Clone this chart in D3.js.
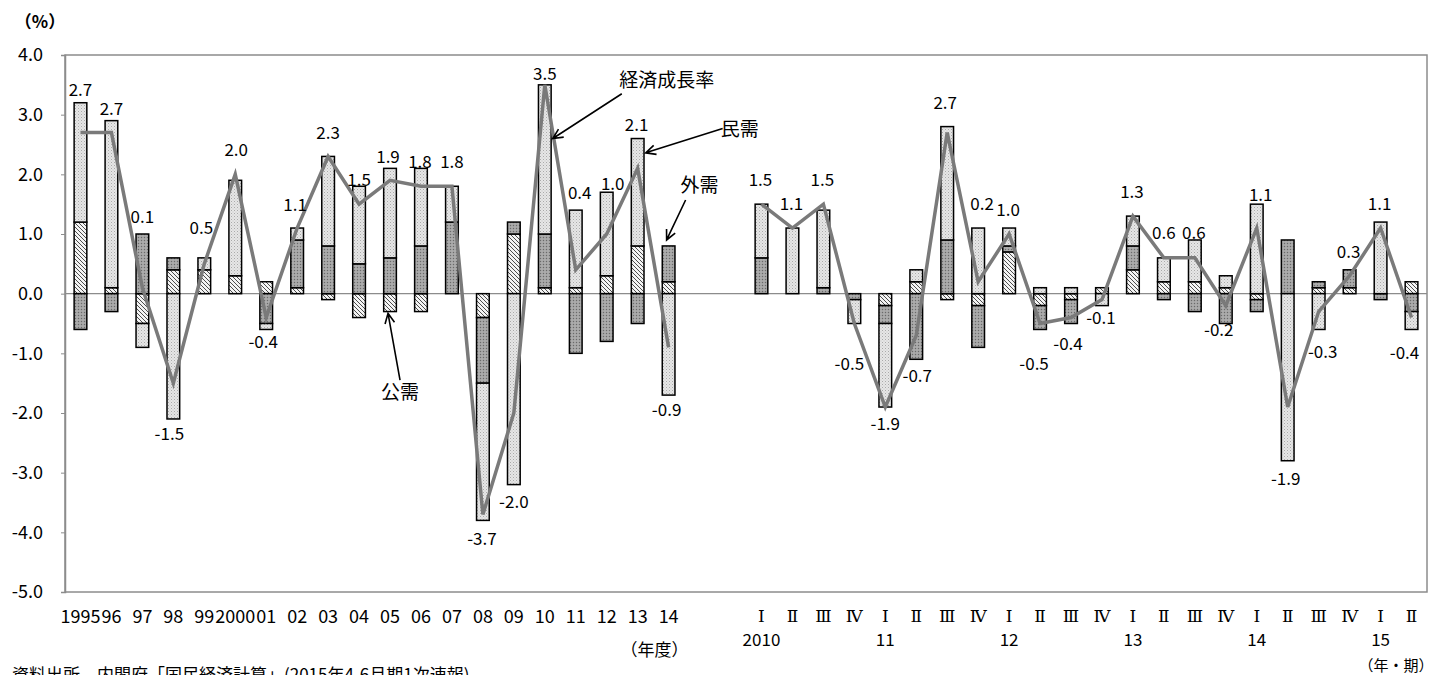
<!DOCTYPE html>
<html><head><meta charset="utf-8">
<script src="https://cdn.jsdelivr.net/npm/d3@7"></script>
<style>
body{margin:0;background:#fff;}
text{fill:#000;}
</style></head>
<body>
<script>
// ---------- DATA ----------
const annualCats = ["1995","96","97","98","99","2000","01","02","03","04","05","06","07","08","09","10","11","12","13","14"];
const annualPublic   = [1.2,0.1,-0.5,0.4,0.4,0.3,0.2,0.1,-0.1,-0.4,-0.3,-0.3,0,-0.4,1.0,0.1,0.1,0.3,0.8,0.2];
const annualExternal = [-0.6,-0.3,1.0,0.2,0,0,-0.5,0.8,0.8,0.5,0.6,0.8,1.2,-1.1,0.2,0.9,-1.0,-0.8,-0.5,0.6];
const annualPrivate  = [2.0,2.8,-0.4,-2.1,0.2,1.6,-0.1,0.2,1.5,1.3,1.5,1.3,0.6,-2.3,-3.2,2.5,1.3,1.4,1.8,-1.7];
const annualGDP      = [2.7,2.7,0.1,-1.5,0.5,2.0,-0.4,1.1,2.3,1.5,1.9,1.8,1.8,-3.7,-2.0,3.5,0.4,1.0,2.1,-0.9];

const quarterCats  = ["Ⅰ","Ⅱ","Ⅲ","Ⅳ","Ⅰ","Ⅱ","Ⅲ","Ⅳ","Ⅰ","Ⅱ","Ⅲ","Ⅳ","Ⅰ","Ⅱ","Ⅲ","Ⅳ","Ⅰ","Ⅱ","Ⅲ","Ⅳ","Ⅰ","Ⅱ"];
const quarterYears = ["2010","","","","11","","","","12","","","","13","","","","14","","","","15",""];
const quarterPublic   = [0,0,0,0,-0.2,0.2,-0.1,-0.2,0.7,-0.2,-0.1,0.1,0.4,0.2,0.2,0.1,-0.1,0,0.1,0.1,0,0.2];
const quarterExternal = [0.6,0,0.1,-0.1,-0.3,-1.1,0.9,-0.7,0.1,-0.4,-0.4,0,0.4,-0.1,-0.3,-0.5,-0.2,0.9,0.1,0.3,-0.1,-0.3];
const quarterPrivate  = [0.9,1.1,1.3,-0.4,-1.4,0.2,1.9,1.1,0.3,0.1,0.1,-0.2,0.5,0.4,0.7,0.2,1.5,-2.8,-0.6,0,1.2,-0.3];
const quarterGDP      = [1.5,1.1,1.5,-0.5,-1.9,-0.7,2.7,0.2,1.0,-0.5,-0.4,-0.1,1.3,0.6,0.6,-0.2,1.1,-1.9,-0.3,0.3,1.1,-0.4];

const yTicks = [4,3,2,1,0,-1,-2,-3,-4,-5];
const seriesNames = ["公需","外需","民需"];

// label layout (offsets from each growth-rate point, px)
const annualLabelDx = [0,0,0,-4,-3,1,-3,-2,0,0,-2,-1,0,-1,0,0,4,6,-1,-2];
const annualLabelDy = [-44,-25,-72,49,-37,-26,23,-25,-25,-26,-25,-26,-26,23,87,-12,-78,-52,-45,61];
const quarterLabelDx = [-1,-1,-1,-5,0,1,-2,4,-1,-6,-3,-1,-1,0,-1,-7,4,-2,4,-1,-1,-7];
const quarterLabelDy = [-26,-26,-26,39,15,39,-31,-79,-26,39,25,17,-26,-26,-26,23,-35,70,39,-25,-26,34];

// ---------- LAYOUT ----------
const W = 1439, H = 675;
const X0 = 65, X1 = 1427, Y0 = 55, Y1 = 592;
const FONT = "'Noto Sans CJK JP','Noto Sans',sans-serif";

const annualKeys = annualCats.map((d,i)=>"A"+i);
const gapKeys = ["G0","G1"];
const quarterKeys = quarterCats.map((d,i)=>"Q"+i);
const allKeys = annualKeys.concat(gapKeys, quarterKeys);

const rows = [];
annualKeys.forEach((k,i)=>rows.push({key:k,"公需":annualPublic[i],"外需":annualExternal[i],"民需":annualPrivate[i]}));
quarterKeys.forEach((k,i)=>rows.push({key:k,"公需":quarterPublic[i],"外需":quarterExternal[i],"民需":quarterPrivate[i]}));

const x = d3.scaleBand().domain(allKeys).range([X0, X1]).paddingInner(0).paddingOuter(0);
const y = d3.scaleLinear().domain([-5,4]).range([Y1, Y0]);
const bw = x.bandwidth()*0.41;
const cx = k => x(k) + x.bandwidth()/2;

const svg = d3.select("body").append("svg").attr("width",W).attr("height",H)
  .style("font-family",FONT);
const defs = svg.append("defs");

// patterns
const pl = defs.append("pattern").attr("id","pLight").attr("patternUnits","userSpaceOnUse").attr("width",3).attr("height",3);
pl.append("rect").attr("width",3).attr("height",3).attr("fill","#e6e6e6");
pl.append("rect").attr("x",0).attr("y",0).attr("width",1).attr("height",1).attr("fill","#aaaaaa");
pl.append("rect").attr("x",1.5).attr("y",1.5).attr("width",1).attr("height",1).attr("fill","#c4c4c4");

const pd = defs.append("pattern").attr("id","pDark").attr("patternUnits","userSpaceOnUse").attr("width",3).attr("height",3);
pd.append("rect").attr("width",3).attr("height",3).attr("fill","#a2a2a2");
pd.append("rect").attr("x",0).attr("y",0).attr("width",1).attr("height",1).attr("fill","#6a6a6a");
pd.append("rect").attr("x",1.5).attr("y",1.5).attr("width",1).attr("height",1).attr("fill","#c8c8c8");

const ph = defs.append("pattern").attr("id","pHatch").attr("patternUnits","userSpaceOnUse").attr("width",4).attr("height",4);
ph.append("rect").attr("width",4).attr("height",4).attr("fill","#f4f4f4");
ph.append("path").attr("d","M-1,-1 L5,5 M-1,3 L1,5 M3,-1 L5,1").attr("stroke","#3a3a3a").attr("stroke-width",0.9);

const fills = {"公需":"url(#pHatch)","外需":"url(#pDark)","民需":"url(#pLight)"};

// plot frame
svg.append("rect").attr("x",X0).attr("y",Y0).attr("width",X1-X0).attr("height",Y1-Y0)
  .attr("fill","none").attr("stroke","#8c8c8c").attr("stroke-width",1.5);

// y axis
const yAxis = svg.append("g").attr("transform",`translate(${X0},0)`)
  .call(d3.axisLeft(y).tickValues(yTicks).tickFormat(d=>d.toFixed(1)).tickSize(4).tickPadding(18));
yAxis.select(".domain").attr("stroke","#8c8c8c").attr("stroke-width",1.5);
yAxis.selectAll(".tick line").attr("stroke","#8c8c8c");
yAxis.selectAll("text").style("font-size","18px").style("font-family",FONT);

// zero line
svg.append("line").attr("x1",X0).attr("x2",X1).attr("y1",y(0)).attr("y2",y(0))
  .attr("stroke","#8c8c8c").attr("stroke-width",1.2);

// x axis labels
const xLabel = {};
annualKeys.forEach((k,i)=>xLabel[k]=annualCats[i]);
gapKeys.forEach(k=>xLabel[k]="");
quarterKeys.forEach((k,i)=>xLabel[k]=quarterCats[i]);
const xAxis = svg.append("g").attr("transform",`translate(0,${Y1})`)
  .call(d3.axisBottom(x).tickFormat(k=>xLabel[k]).tickSize(0).tickPadding(18));
xAxis.select(".domain").remove();
xAxis.selectAll("text").style("font-size","18px").style("font-family",FONT);
xAxis.selectAll(".tick").filter(k=>k[0]==="Q").select("text")
  .style("font-family","'DejaVu Serif',serif").style("font-size","17px");

const yearKeys = quarterKeys.filter((k,i)=>quarterYears[i]!=="");
const yrLabel = {}; quarterKeys.forEach((k,i)=>yrLabel[k]=quarterYears[i]);
const xAxis2 = svg.append("g").attr("transform",`translate(0,${Y1})`)
  .call(d3.axisBottom(x).tickValues(yearKeys).tickFormat(k=>yrLabel[k]).tickSize(0).tickPadding(42));
xAxis2.select(".domain").remove();
xAxis2.selectAll("text").style("font-size","17px").style("font-family",FONT);

// stacked bars
const stack = d3.stack().keys(seriesNames).offset(d3.stackOffsetDiverging);
const stacked = stack(rows);
const barG = svg.append("g");
stacked.forEach(s=>{
  barG.append("g").selectAll("rect")
    .data(s.filter(d=>Math.abs(d[1]-d[0])>1e-6))
    .join("rect")
    .attr("x",d=>cx(d.data.key)-bw/2)
    .attr("width",bw)
    .attr("y",d=>y(Math.max(d[0],d[1])))
    .attr("height",d=>Math.abs(y(d[0])-y(d[1])))
    .attr("fill",fills[s.key])
    .attr("stroke","#000").attr("stroke-width",1.5);
});

// GDP lines
const line = d3.line().x(d=>cx(d.k)).y(d=>y(d.v));
const annualPts = annualKeys.map((k,i)=>({k,v:annualGDP[i]}));
const quarterPts = quarterKeys.map((k,i)=>({k,v:quarterGDP[i]}));
[annualPts, quarterPts].forEach(p=>{
  svg.append("path").attr("d",line(p)).attr("fill","none")
    .attr("stroke","#7a7a7a").attr("stroke-width",3.5).attr("stroke-linejoin","miter");
});

// data labels
const labG = svg.append("g");
function addLabels(pts, dx, dy){
  pts.forEach((p,i)=>{
    labG.append("text").attr("x",cx(p.k)+dx[i]).attr("y",y(p.v)+dy[i])
      .attr("text-anchor","middle").attr("dominant-baseline","central")
      .style("font-size","17px").text(p.v.toFixed(1));
  });
}
addLabels(annualPts, annualLabelDx, annualLabelDy);
addLabels(quarterPts, quarterLabelDx, quarterLabelDy);

// annotations with open arrows
function arrow(x1,y1,x2,y2){
  const a = Math.atan2(y2-y1,x2-x1), L=11, s=0.45;
  const p = `M${x1},${y1}L${x2},${y2}M${x2-L*Math.cos(a-s)},${y2-L*Math.sin(a-s)}L${x2},${y2}L${x2-L*Math.cos(a+s)},${y2-L*Math.sin(a+s)}`;
  svg.append("path").attr("d",p).attr("fill","none").attr("stroke","#000").attr("stroke-width",1.6);
}
function note(xp,yp,t){
  svg.append("text").attr("x",xp).attr("y",yp).attr("text-anchor","middle")
    .attr("dominant-baseline","central").style("font-size","19px").text(t);
}
const k2010 = annualKeys[15], k2013 = annualKeys[18], k2014 = annualKeys[19], k2005 = annualKeys[10];
arrow(cx(k2010)+77, y(3.35), cx(k2010)+8, y(2.6));
note(cx(k2010)+122, y(3.6), "経済成長率");
arrow(cx(k2013)+85, y(2.77), cx(k2013)+8, y(2.36));
note(cx(k2013)+102, y(2.79), "民需");
arrow(cx(k2014)+17, y(1.57), cx(k2014)-2, y(0.9));
note(cx(k2014)+31, y(1.85), "外需");
arrow(cx(k2005)+10, y(-1.45), cx(k2005)-2, y(-0.33));
note(cx(k2005)+10, y(-1.63), "公需");

// other texts
svg.append("text").attr("x",40).attr("y",20).attr("text-anchor","middle").attr("dominant-baseline","central")
  .style("font-size","17px").style("font-weight","bold").text("（%）");
svg.append("text").attr("x",cx(k2014)-14).attr("y",648).attr("text-anchor","middle").attr("dominant-baseline","central")
  .style("font-size","17px").text("（年度）");
svg.append("text").attr("x",1396).attr("y",664).attr("text-anchor","middle").attr("dominant-baseline","central")
  .style("font-size","15px").text("（年・期）");
svg.append("text").attr("x",12).attr("y",681).style("font-size","17px")
  .text("資料出所　内閣府「国民経済計算」(2015年4-6月期1次速報)");
</script>
</body></html>
